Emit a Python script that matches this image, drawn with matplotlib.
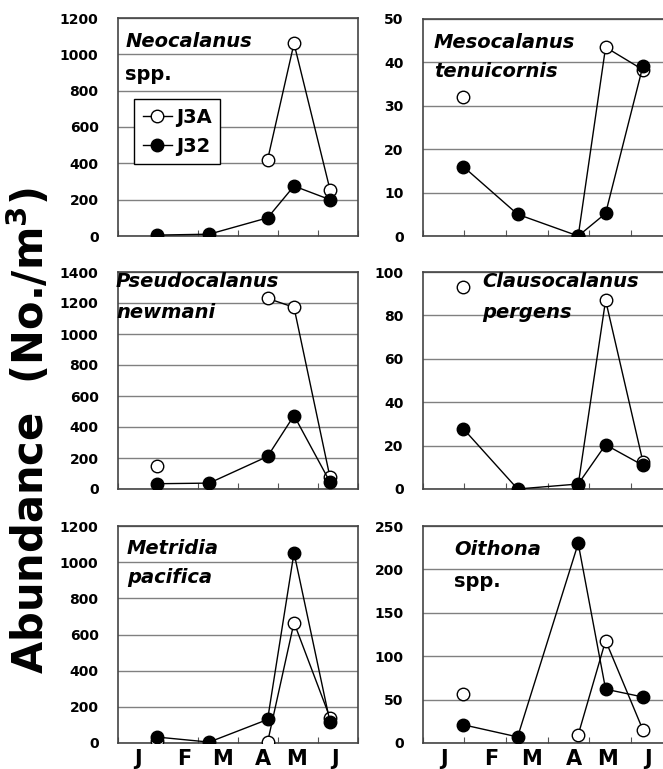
import numpy as np
import matplotlib
matplotlib.use('Agg')
import matplotlib.pyplot as plt

nan = np.nan

# sampling dates, in months from 1 Jan (month boundaries at integers)
dates = [0.97, 2.28, 3.74, 4.40, 5.30]
months = ['J', 'F', 'M', 'A', 'M', 'J']
month_pos = [0.5, 1.65, 2.62, 3.63, 4.45, 5.43]

# abundance (No./m3), station J3A and J32
neo_j3a = [nan, nan, 420, 1060, 255]
neo_j32 = [5, 10, 100, 275, 200]
meso_j3a = [32, nan, 0, 43.5, 38.3]
meso_j32 = [16, 5, 0, 5.2, 39.2]
pseudo_j3a = [150, nan, 1230, 1172, 75]
pseudo_j32 = [34, 38, 210, 474, 45]
claus_j3a = [93, nan, 2, 87, 12.5]
claus_j32 = [27.8, 0, 2.3, 20.4, 10.9]
metr_j3a = [10, nan, 5, 666, 140]
metr_j32 = [33, 5, 130, 1052, 116]
oith_j3a = [57, nan, 9.5, 118, 15]
oith_j32 = [21, 7, 230, 62, 53]

W, H = 663, 769
fig = plt.figure(figsize=(W / 100, H / 100), dpi=100)

def make_ax(x0, y0, w, h):
    return fig.add_axes([x0 / W, 1 - (y0 + h) / H, w / W, h / H])

panels = [
    # x0, y0, w, h, ymax, step, j3a, j32, genus, second line, second italic, text positions
    (118, 18, 240, 218, 1200, 200, neo_j3a, neo_j32, 'Neocalanus', 'spp.', False, (0.03, 0.867, 0.716)),
    (423, 19, 249, 217, 50, 10, meso_j3a, meso_j32, 'Mesocalanus', 'tenuicornis', True, (0.044, 0.867, 0.733)),
    (118, 272, 240, 217, 1400, 200, pseudo_j3a, pseudo_j32, 'Pseudocalanus', 'newmani', True, (-0.008, 0.93, 0.79)),
    (423, 272, 249, 217, 100, 20, claus_j3a, claus_j32, 'Clausocalanus', 'pergens', True, (0.237, 0.93, 0.79)),
    (118, 526, 240, 217, 1200, 200, metr_j3a, metr_j32, 'Metridia', 'pacifica', True, (0.0375, 0.87, 0.737)),
    (423, 526, 249, 217, 250, 50, oith_j3a, oith_j32, 'Oithona', 'spp.', False, (0.125, 0.866, 0.72)),
]

for i, (x0, y0, w, h, ymax, step, j3a, j32, genus, second, ital, tp) in enumerate(panels):
    ax = make_ax(x0, y0, w, h)
    ax.plot(dates, j3a, '-o', color='black', lw=1, ms=9, mfc='white', mec='black',
            mew=1, label='J3A', zorder=3)
    ax.plot(dates, j32, '-o', color='black', lw=1, ms=9, mfc='black', mec='black',
            label='J32', zorder=4)
    ax.set_xlim(0, 6)
    ax.set_ylim(0, ymax)
    ax.set_yticks(np.arange(0, ymax + 1, step))
    ax.yaxis.grid(True, color='#808080', lw=1)
    ax.set_axisbelow(True)
    ax.tick_params(axis='y', length=0, pad=14, labelsize=10)
    for lab in ax.get_yticklabels():
        lab.set_fontweight('bold')
    ax.set_xticks(range(7))
    ax.set_xticklabels([])
    ax.tick_params(axis='x', which='major', direction='in', length=4, color='#555555')
    if i >= 4:
        ax.set_xticks(month_pos, minor=True)
        ax.set_xticklabels(months, minor=True, fontsize=15, fontweight='bold')
        ax.tick_params(axis='x', which='minor', length=0, pad=4)
    for sp in ax.spines.values():
        sp.set_color('#444444')
        sp.set_linewidth(1.2)

    tx, ty1, ty2 = tp
    ax.text(tx, ty1, genus, transform=ax.transAxes, fontsize=14, fontweight='bold',
            style='italic', va='baseline', ha='left')
    ax.text(tx, ty2, second, transform=ax.transAxes, fontsize=14, fontweight='bold',
            style='italic' if ital else 'normal', va='baseline', ha='left')

    if i == 0:
        leg = ax.legend(loc='upper left', bbox_to_anchor=(0.067, 0.628), borderaxespad=0,
                        fancybox=False, edgecolor='black', framealpha=1, handlelength=1.5,
                        handletextpad=0.2, borderpad=0.45, labelspacing=0.5,
                        prop={'weight': 'bold', 'size': 14})
        leg.get_frame().set_linewidth(1)

fig.text(0.044, 0.44, 'Abundance  (No./m$^\\mathbf{3}$)', rotation=90, ha='center',
         va='center', fontsize=30, fontweight='bold')

fig.savefig('out.png', dpi=100)
